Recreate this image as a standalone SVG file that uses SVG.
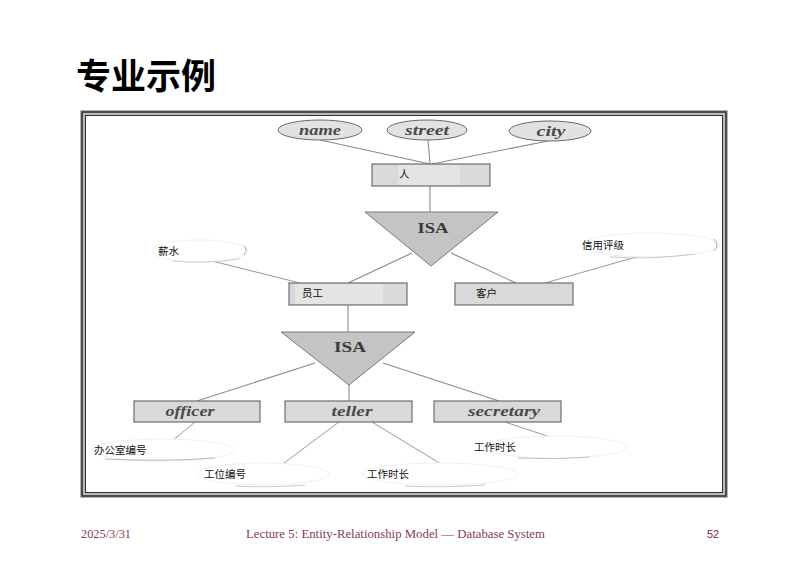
<svg xmlns="http://www.w3.org/2000/svg" width="803" height="568" viewBox="0 0 803 568">
  <defs>
    <style>
      .title { font-family: "Noto Sans CJK SC", "Liberation Sans", sans-serif; font-size: 35px; font-weight: bold; fill: #000; }
      .ent { fill: #d9d9d9; stroke: #6e6e6e; stroke-width: 1.2; }
      .patch { fill: #e4e4e4; }
      .attr { fill: #e2e2e2; stroke: #6a6a6a; stroke-width: 1; }
      .fade { fill: #fff; stroke: #f0f0f0; stroke-width: 1; }
      .edge { stroke: #8a8a8a; stroke-width: 1.1; fill: none; }
      .faint { stroke: #9a9a9a; stroke-width: 1; fill: none; }
      .isa { fill: #c4c4c4; stroke: #7a7a7a; stroke-width: 1; }
      .it { font-family: "Liberation Serif", serif; font-style: italic; font-weight: bold; font-size: 15px; fill: #4a4a4a; text-anchor: middle; }
      .isat { font-family: "Liberation Serif", serif; font-weight: bold; font-size: 14px; fill: #3a3a3a; text-anchor: middle; }
      .cn { font-family: "Noto Sans CJK SC", "Liberation Sans", sans-serif; font-size: 10.5px; fill: #111; }
      .foot { font-family: "Liberation Serif", serif; font-size: 12px; fill: #8a3c50; }
      .num { font-family: "Liberation Sans", sans-serif; font-size: 11px; fill: #7a2a40; }
    </style>
  </defs>

  <rect width="803" height="568" fill="#fff"/>

  <text class="title" x="76" y="89">专业示例</text>

  <!-- picture frame: double rule -->
  <g id="frame" fill="none">
    <rect x="80.5" y="110.5" width="647" height="387" stroke="#b8b8b8" stroke-width="1"/>
    <rect x="82" y="112" width="644" height="384" stroke="#222" stroke-width="1.6"/>
    <rect x="84" y="114" width="640" height="380" stroke="#8c8c8c" stroke-width="1.2"/>
    <rect x="85.5" y="115.5" width="637" height="377" stroke="#333" stroke-width="1"/>
  </g>

  <!-- connectors -->
  <g id="connectors">
    <line class="edge" x1="320" y1="140" x2="430" y2="164"/>
    <line class="edge" x1="428" y1="140" x2="430" y2="164"/>
    <line class="edge" x1="548" y1="141" x2="432" y2="164"/>
    <line class="edge" x1="430" y1="186" x2="430" y2="212"/>
    <line class="edge" x1="412" y1="253" x2="348" y2="283"/>
    <line class="edge" x1="451" y1="253" x2="516" y2="283"/>
    <line class="faint" x1="212" y1="261" x2="300" y2="283"/>
    <line class="faint" x1="636" y1="257" x2="545" y2="283"/>
    <line class="edge" x1="348" y1="305" x2="348" y2="332"/>
    <line class="edge" x1="315" y1="363" x2="197" y2="401"/>
    <line class="edge" x1="349" y1="385" x2="349" y2="401"/>
    <line class="edge" x1="383" y1="363" x2="499" y2="401"/>
    <line class="faint" x1="195" y1="422" x2="172" y2="441"/>
    <line class="faint" x1="339" y1="422" x2="284" y2="463"/>
    <line class="faint" x1="372" y1="422" x2="446" y2="467"/>
    <line class="faint" x1="505" y1="422" x2="556" y2="439"/>
  </g>

  <!-- attributes of 人 -->
  <g id="attr-name">
    <ellipse class="attr" cx="320" cy="130" rx="42" ry="10"/>
    <text class="it" x="320" y="135" textLength="42" lengthAdjust="spacingAndGlyphs">name</text>
  </g>
  <g id="attr-street">
    <ellipse class="attr" cx="427" cy="130" rx="40" ry="10"/>
    <text class="it" x="427" y="135" textLength="44" lengthAdjust="spacingAndGlyphs">street</text>
  </g>
  <g id="attr-city">
    <ellipse class="attr" cx="550" cy="131" rx="41" ry="10"/>
    <text class="it" x="551" y="136" textLength="29" lengthAdjust="spacingAndGlyphs">city</text>
  </g>

  <!-- entity 人 -->
  <g id="ent-person">
    <rect class="ent" x="372" y="164" width="118" height="22"/>
    <rect class="patch" x="398" y="165" width="62" height="20"/>
    <text class="cn" x="399" y="178">人</text>
  </g>

  <!-- ISA 1 -->
  <g id="isa-1">
    <polygon class="isa" points="365,212 498,212 431,266"/>
    <text class="isat" x="433" y="233" textLength="31" lengthAdjust="spacingAndGlyphs">ISA</text>
  </g>

  <!-- attribute 薪水 -->
  <g id="attr-salary">
    <ellipse class="fade" cx="200" cy="251" rx="48" ry="11"/>
    <path d="M244,246 Q248,250 244,255" stroke="#aaa" stroke-width="1" fill="none"/>
    <path d="M172,261 Q205,264 240,259" stroke="#d0d0d0" stroke-width="1" fill="none"/>
    <text class="cn" x="158" y="255">薪水</text>
  </g>

  <!-- entity 员工 -->
  <g id="ent-employee">
    <rect class="ent" x="289" y="283" width="118" height="22"/>
    <rect class="patch" x="295" y="284" width="88" height="20"/>
    <text class="cn" x="302" y="297">员工</text>
  </g>

  <!-- entity 客户 -->
  <g id="ent-customer">
    <rect class="ent" x="455" y="283" width="118" height="22"/>
    <text class="cn" x="476" y="297">客户</text>
  </g>

  <!-- attribute 信用评级 -->
  <g id="attr-credit">
    <ellipse class="fade" cx="650" cy="245" rx="69" ry="12"/>
    <path d="M714,239 Q720,245 714,251" stroke="#aaa" stroke-width="1" fill="none"/>
    <path d="M610,257 Q650,260 695,254" stroke="#c8c8c8" stroke-width="1" fill="none"/>
    <text class="cn" x="582" y="249">信用评级</text>
  </g>

  <!-- ISA 2 -->
  <g id="isa-2">
    <polygon class="isa" points="281,332 415,332 349,385"/>
    <text class="isat" x="350" y="352" textLength="32" lengthAdjust="spacingAndGlyphs">ISA</text>
  </g>

  <!-- subclasses of 员工 -->
  <g id="ent-officer">
    <rect class="ent" x="134" y="401" width="126" height="21"/>
    <text class="it" x="190" y="416" textLength="49" lengthAdjust="spacingAndGlyphs">officer</text>
  </g>
  <g id="ent-teller">
    <rect class="ent" x="285" y="401" width="127" height="21"/>
    <text class="it" x="352" y="416" textLength="41" lengthAdjust="spacingAndGlyphs">teller</text>
  </g>
  <g id="ent-secretary">
    <rect class="ent" x="434" y="401" width="127" height="21"/>
    <text class="it" x="504" y="416" textLength="72" lengthAdjust="spacingAndGlyphs">secretary</text>
  </g>

  <!-- attributes of the subclasses -->
  <g id="attr-office">
    <ellipse class="fade" cx="163" cy="450" rx="72" ry="11"/>
    <path d="M105,459 Q160,462 215,458" stroke="#b8b8b8" stroke-width="1" fill="none"/>
    <text class="cn" x="94" y="454">办公室编号</text>
  </g>
  <g id="attr-station">
    <ellipse class="fade" cx="263" cy="474" rx="66" ry="11"/>
    <path d="M236,486 Q265,488 305,485" stroke="#c8c8c8" stroke-width="1" fill="none"/>
    <text class="cn" x="204" y="478">工位编号</text>
  </g>
  <g id="attr-hours-teller">
    <ellipse class="fade" cx="440" cy="474" rx="78" ry="11"/>
    <path d="M405,486 Q440,488 485,485" stroke="#c8c8c8" stroke-width="1" fill="none"/>
    <text class="cn" x="367" y="478">工作时长</text>
  </g>
  <g id="attr-hours-secretary">
    <ellipse class="fade" cx="555" cy="447" rx="72" ry="11"/>
    <path d="M518,458 Q555,460 590,457" stroke="#c0c0c0" stroke-width="1" fill="none"/>
    <text class="cn" x="474" y="451">工作时长</text>
  </g>

  <!-- footer -->
  <g id="footer">
    <text class="foot" x="81" y="538" textLength="50" lengthAdjust="spacingAndGlyphs">2025/3/31</text>
    <text class="foot" x="246" y="538" textLength="299" lengthAdjust="spacingAndGlyphs">Lecture 5: Entity-Relationship Model — Database System</text>
    <text class="num" x="707" y="538">52</text>
  </g>
</svg>
